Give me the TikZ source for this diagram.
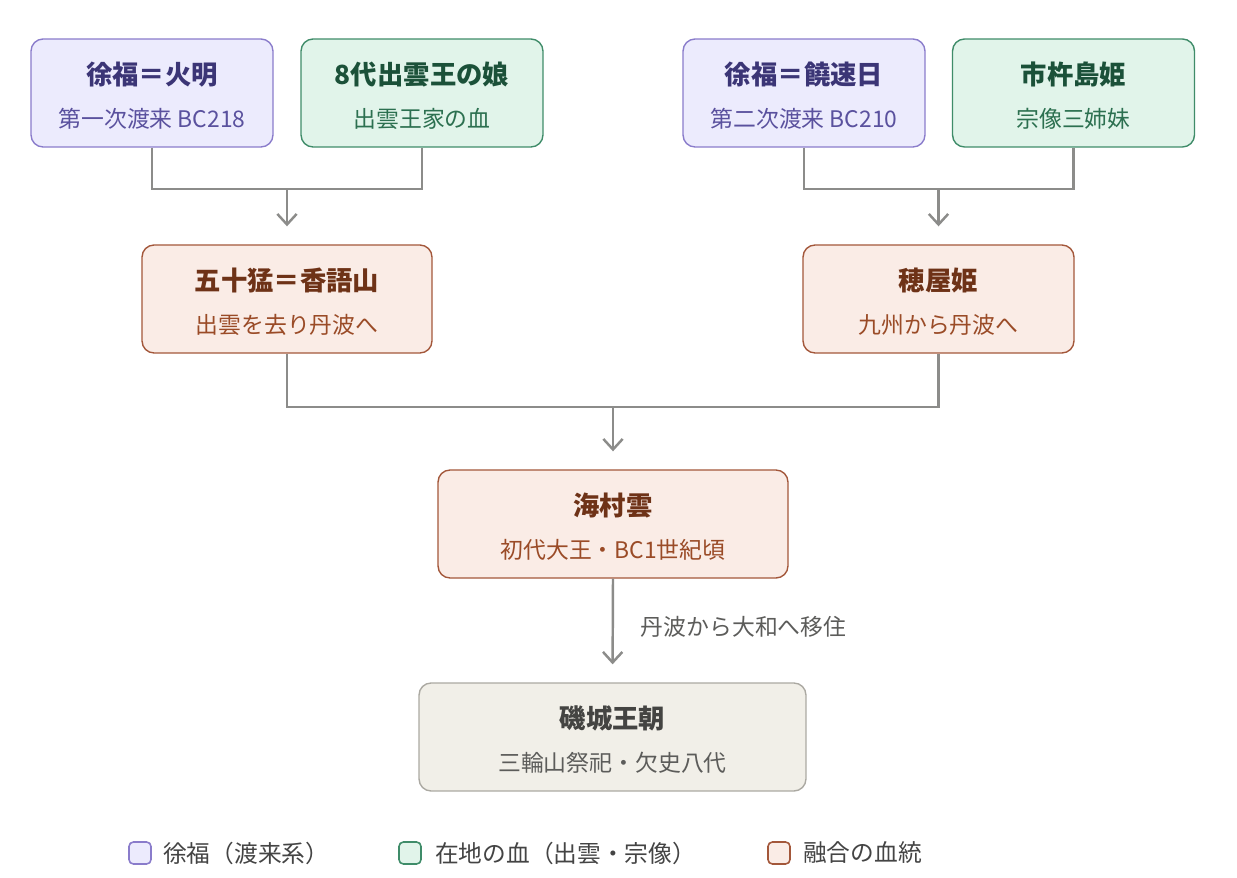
\documentclass[tikz,border=0pt]{standalone}
\usepackage{fontspec}
\setmainfont{Noto Sans CJK JP}
\usetikzlibrary{positioning}
\usetikzlibrary{arrows.meta}
% colours of the three lineages and the dynasty
\definecolor{tojinfill}{HTML}{ECEBFD}
\definecolor{tojinline}{HTML}{8A7CCB}
\definecolor{tojintitle}{HTML}{3B3576}
\definecolor{tojinsub}{HTML}{5A519E}
\definecolor{localfill}{HTML}{E1F4EA}
\definecolor{localline}{HTML}{3F8C69}
\definecolor{localtitle}{HTML}{1B5139}
\definecolor{localsub}{HTML}{2C7050}
\definecolor{mixfill}{HTML}{FAECE6}
\definecolor{mixline}{HTML}{A3573A}
\definecolor{mixtitle}{HTML}{6E3217}
\definecolor{mixsub}{HTML}{9A4B27}
\definecolor{dynfill}{HTML}{F1EFE8}
\definecolor{dynline}{HTML}{ABA9A2}
\definecolor{dyntitle}{HTML}{444442}
\definecolor{dynsub}{HTML}{5C5C5A}
\definecolor{linkgray}{HTML}{8C8C8A}
\definecolor{legendtext}{HTML}{444444}

\newcommand{\titlefont}{\fontsize{15}{24.5}\selectfont\bfseries\color{ttl}}
\newcommand{\clan}[7] % node name, x px, y px, width cm, style, title, subtitle
{
	\node[#5, minimum width=#4cm] (#1) at (#2,#3) {{\titlefont\rule{0pt}{16pt}#6}\\#7};
}

\begin{document}
\begin{tikzpicture}[x=0.02cm, y=-0.02cm,
	box/.style={rectangle, rounded corners=0.24cm, line width=0.8pt, minimum height=2.16cm, align=center, font=\fontsize{13}{24.5}\selectfont},
	tojin/.style={box, fill=tojinfill, draw=tojinline, text=tojinsub, execute at begin node=\colorlet{ttl}{tojintitle}},
	local/.style={box, fill=localfill, draw=localline, text=localsub, execute at begin node=\colorlet{ttl}{localtitle}},
	mix/.style={box, fill=mixfill, draw=mixline, text=mixsub, execute at begin node=\colorlet{ttl}{mixtitle}},
	dyn/.style={box, fill=dynfill, draw=dynline, text=dynsub, execute at begin node=\colorlet{ttl}{dyntitle}},
	link/.style={draw=linkgray, line width=1.4pt},
	arr/.style={link, -{Straight Barb[length=6pt, width=11pt, line width=1.4pt]}, shorten >=0.36cm},
	keybox/.style={rectangle, rounded corners=2.5pt, minimum size=0.44cm, inner sep=0pt, line width=0.9pt},
	keytext/.style={font=\fontsize{13.5}{16}\selectfont, text=legendtext, inner sep=0pt}]
	% canvas
	\fill[white] (0,0) rectangle (1237,878);
	\useasboundingbox (0,0) rectangle (1237,878);
	% first generation
	\clan{hoakari}{152}{93}{4.84}{tojin}{徐福＝火明}{第一次渡来 BC218};
	\clan{izumohime}{422}{93}{4.84}{local}{8代出雲王の娘}{出雲王家の血};
	\clan{nigihayahi}{804}{93}{4.84}{tojin}{徐福＝饒速日}{第二次渡来 BC210};
	\clan{ichikishima}{1073.5}{93}{4.84}{local}{市杵島姫}{宗像三姉妹};
	% second generation
	\clan{kagoyama}{287}{299}{5.8}{mix}{五十猛＝香語山}{出雲を去り丹波へ};
	\clan{hoyahime}{938.5}{299}{5.42}{mix}{穂屋姫}{九州から丹波へ};
	% third generation
	\clan{amanomurakumo}{613}{524}{7}{mix}{海村雲}{初代大王・BC1世紀頃};
	\clan{shiki}{612.5}{737}{7.74}{dyn}{磯城王朝}{三輪山祭祀・欠史八代};
	% junctions
	\coordinate (jleft) at (287,189);
	\coordinate (jright) at (938.5,189);
	\coordinate (jmid) at (613,407);
	% connectors
	\draw[link] (hoakari.south) |- (jleft) -| (izumohime.south);
	\draw[arr] (jleft) -- (kagoyama.north);
	\draw[link] (nigihayahi.south) |- (jright) -| (ichikishima.south);
	\draw[arr] (jright) -- (hoyahime.north);
	\draw[link] (kagoyama.south) |- (jmid) -| (hoyahime.south);
	\draw[arr] (jmid) -- (amanomurakumo.north);
	\draw[arr] (amanomurakumo.south) -- node[right=0.42cm, pos=0.46, font=\fontsize{13}{16}\selectfont, text=dynsub] (migrate) {丹波から大和へ移住} (shiki.north);
	% legend
	\node[keybox, fill=tojinfill, draw=tojinline] (keytojin) at (140,853) {};
	\node[keytext, right=0.22cm of keytojin] (keytojintext) {徐福（渡来系）};
	\node[keybox, fill=localfill, draw=localline] (keylocal) at (410,853) {};
	\node[keytext, right=0.26cm of keylocal] (keylocaltext) {在地の血（出雲・宗像）};
	\node[keybox, fill=mixfill, draw=mixline] (keymix) at (779,853) {};
	\node[keytext, right=0.24cm of keymix] (keymixtext) {融合の血統};
\end{tikzpicture}
\end{document}
